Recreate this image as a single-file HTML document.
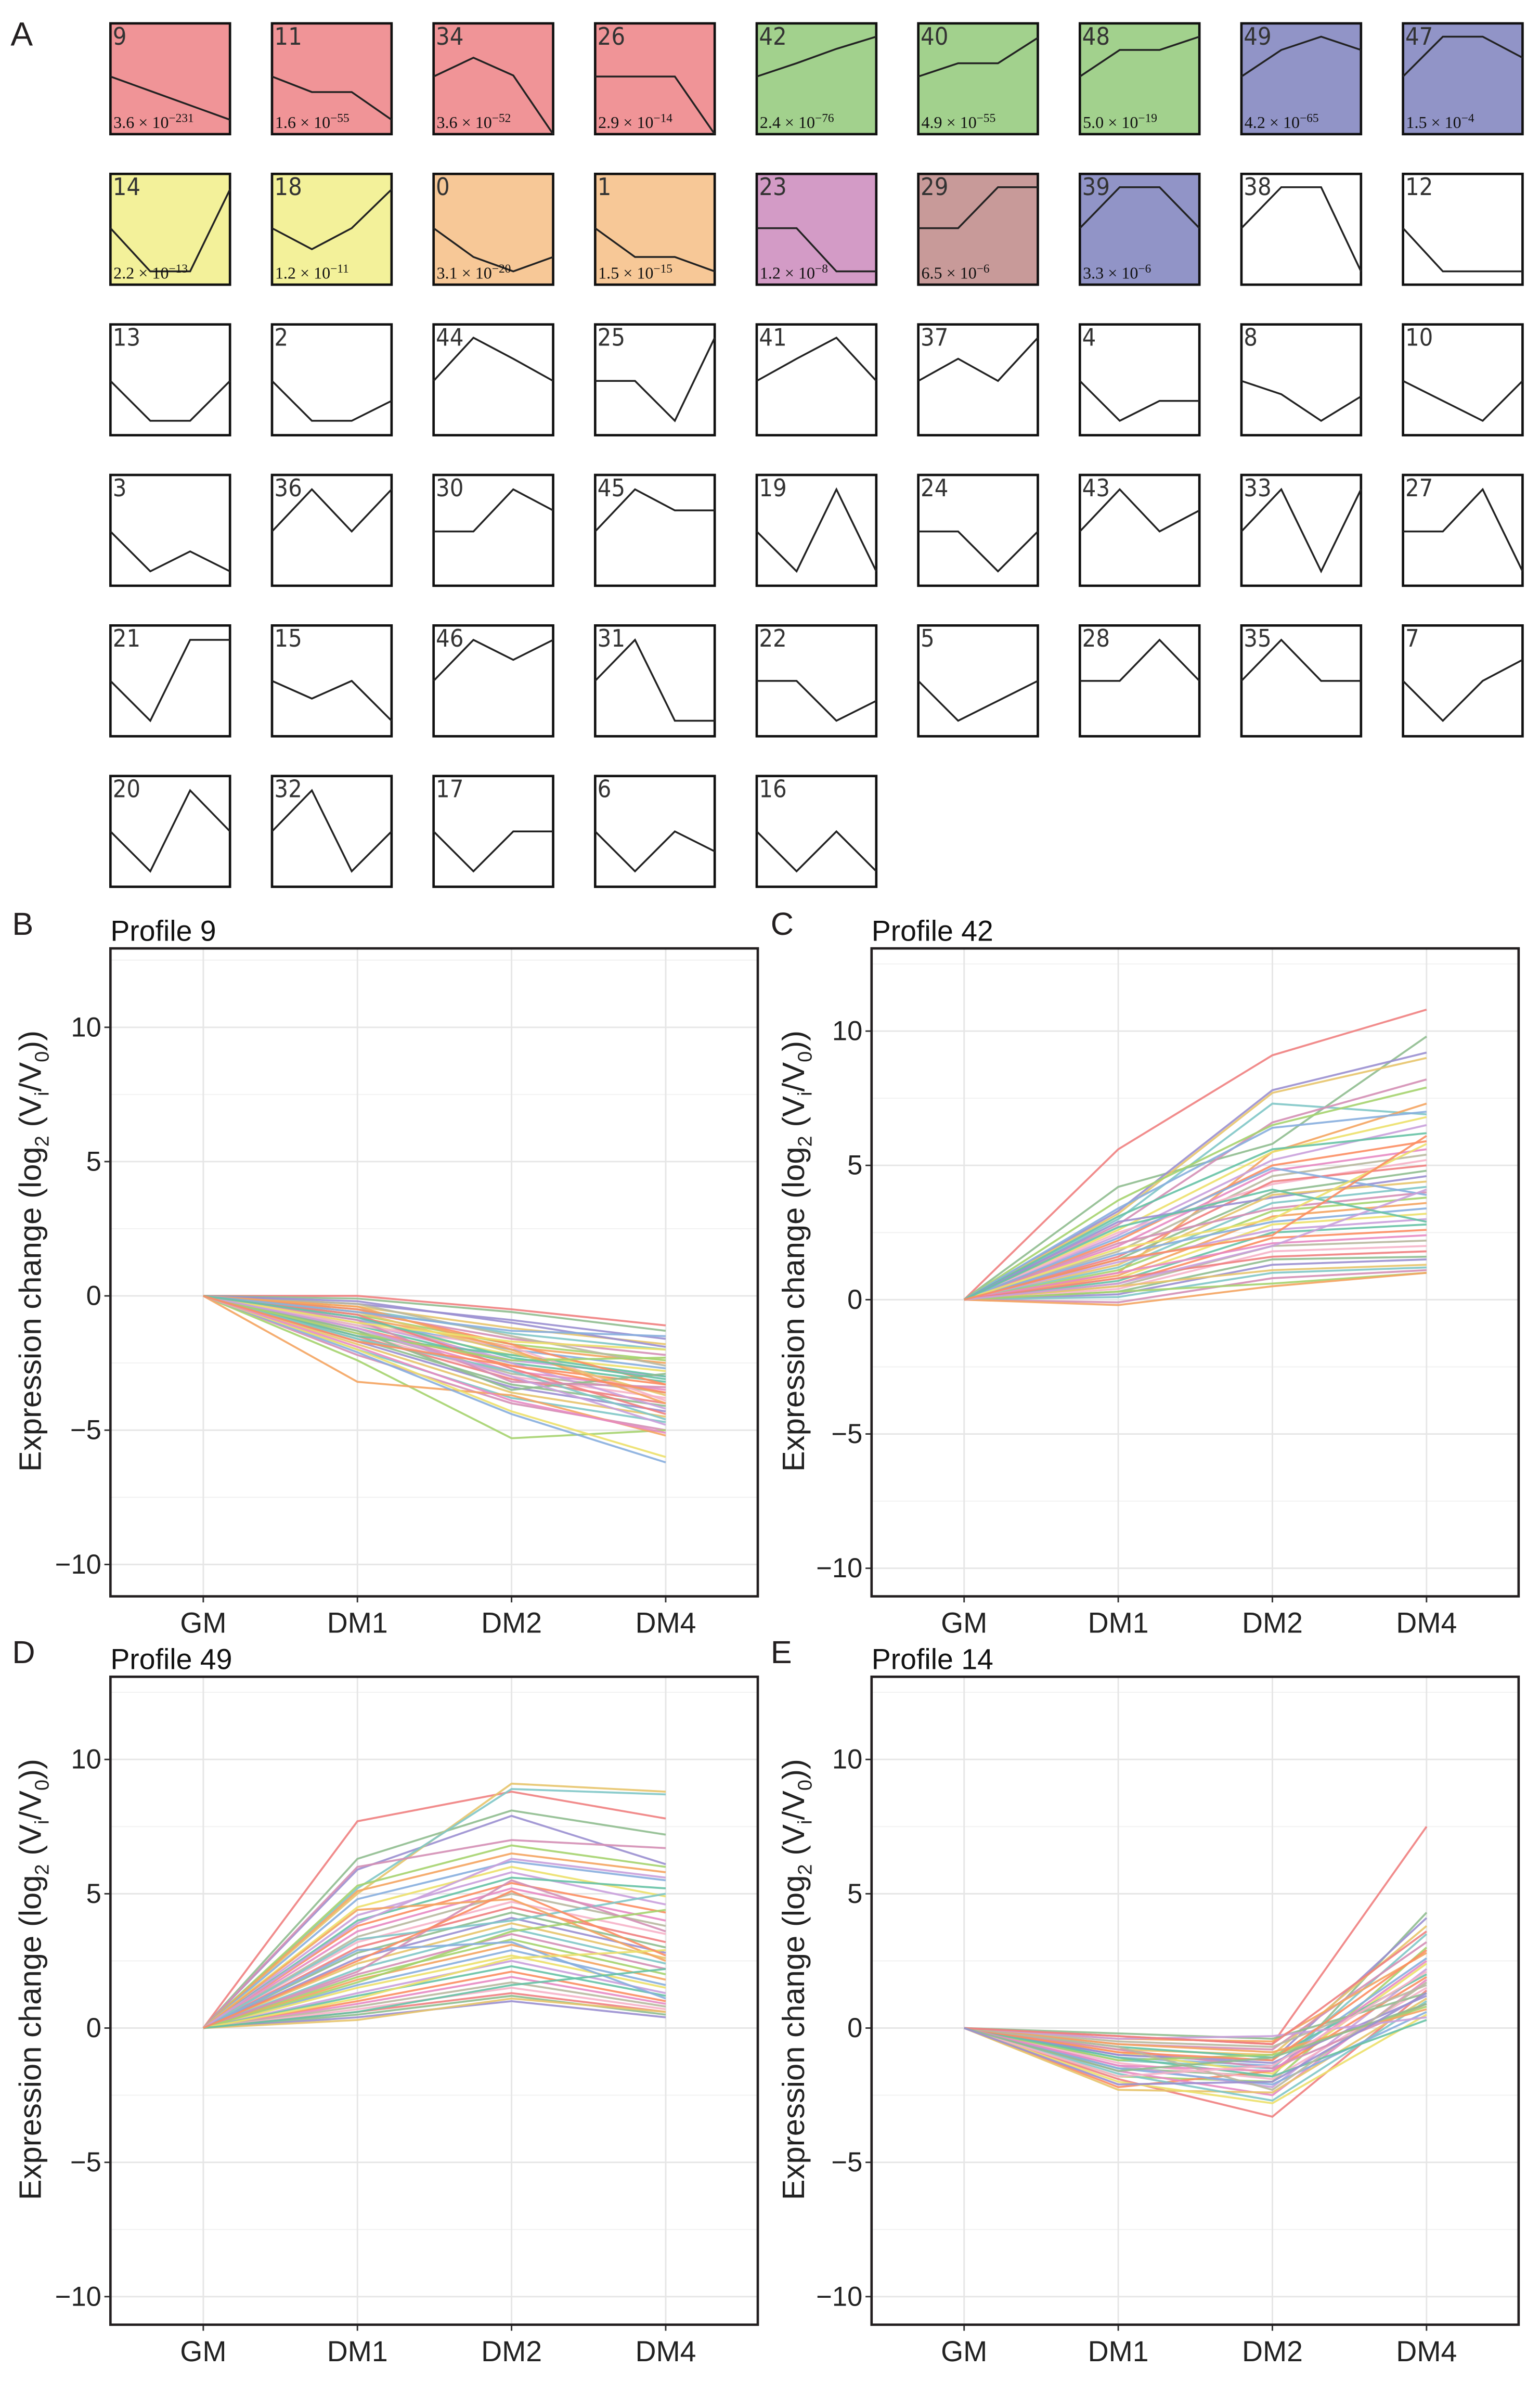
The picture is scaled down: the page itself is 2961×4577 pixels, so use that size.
<!DOCTYPE html>
<html><head><meta charset="utf-8"><title>STEM profiles</title>
<style>
html,body{margin:0;padding:0;background:#fff;}
svg{display:block;}
text{font-family:"Liberation Sans","DejaVu Sans",sans-serif;}
text.pnum{font-family:"DejaVu Sans Condensed","DejaVu Sans",sans-serif;}
text.pval{font-family:"Liberation Serif","DejaVu Serif",serif;}
</style></head>
<body>
<svg id="fig" xmlns="http://www.w3.org/2000/svg" width="2961" height="4577" viewBox="0 0 1015.1 1569.1" preserveAspectRatio="none">
<rect x="0" y="0" width="1015.1" height="1569.1" fill="#fff"/>
<text x="7" y="30" font-size="22" fill="#231f20">A</text>
<g id="grid"></g>
<g id="charts"></g>
</svg>
<script>
// ---------- Panel A data ----------
const profileIds = [9,11,34,26,42,40,48,49,47, 14,18,0,1,23,29,39,38,12, 13,2,44,25,41,37,4,8,10, 3,36,30,45,19,24,43,33,27, 21,15,46,31,22,5,28,35,7, 20,32,17,6,16];
const profileShapes = [
 [.48,.61,.74,.87],[.48,.62,.62,.87],[.48,.31,.47,1.0],[.48,.48,.48,1.0],[.48,.36,.23,.12],[.48,.36,.36,.13],[.48,.24,.24,.12],[.48,.24,.12,.24],[.48,.12,.12,.31],
 [.49,.88,.88,.14],[.49,.68,.49,.14],[.49,.75,.88,.75],[.49,.75,.75,.88],[.49,.49,.88,.88],[.49,.49,.12,.12],[.49,.12,.12,.49],[.49,.12,.12,.88],[.49,.88,.88,.88],
 [.51,.87,.87,.51],[.51,.87,.87,.69],[.51,.12,.31,.51],[.51,.51,.87,.12],[.51,.31,.12,.51],[.51,.31,.51,.12],[.51,.87,.69,.69],[.51,.63,.87,.65],[.51,.69,.87,.51],
 [.51,.87,.69,.87],[.51,.13,.51,.13],[.51,.51,.13,.32],[.51,.13,.32,.32],[.51,.87,.13,.87],[.51,.51,.87,.51],[.51,.13,.51,.32],[.51,.13,.87,.13],[.51,.51,.13,.87],
 [.50,.86,.13,.13],[.50,.66,.50,.86],[.50,.13,.31,.13],[.50,.13,.86,.86],[.50,.50,.86,.68],[.50,.86,.68,.50],[.50,.50,.13,.50],[.50,.13,.50,.50],[.50,.86,.50,.31],
 [.50,.86,.13,.50],[.50,.13,.86,.50],[.50,.86,.50,.50],[.50,.86,.50,.68],[.50,.86,.50,.86]];
const profileColors = ["#f09497","#f09497","#f09497","#f09497","#a2d18d","#a2d18d","#a2d18d","#9194c7","#9194c7",
 "#f3f19a","#f3f19a","#f7c897","#f7c897","#d39bc6","#c89a99","#9194c7"];
const pMant = ["3.6","1.6","3.6","2.9","2.4","4.9","5.0","4.2","1.5","2.2","1.2","3.1","1.5","1.2","6.5","3.3"];
const pExp = ["−231","−55","−52","−14","−76","−55","−19","−65","−4","−13","−11","−20","−15","−8","−6","−6"];

const NS="http://www.w3.org/2000/svg";
function mk(tag,attrs,parent){const e=document.createElementNS(NS,tag);for(const k in attrs)e.setAttribute(k,attrs[k]);if(parent)parent.appendChild(e);return e;}

const grid=document.getElementById('grid');
const bx0=72.8, bw=78.8, bh=73, colStep=106.5, by0=15.4, rowStep=99.2;
profileIds.forEach((id,i)=>{
  const c=i%9, r=Math.floor(i/9);
  const x=bx0+c*colStep, y=by0+r*rowStep;
  const g=mk('g',{},grid);
  
  
  const fill=i<profileColors.length?profileColors[i]:'#ffffff';
  mk('rect',{x:x,y:y,width:bw,height:bh,fill:fill,stroke:'#111','stroke-width':1.6},g);
  const sh=profileShapes[i];
  const pts=sh.map((v,k)=>(x+k*bw/3).toFixed(2)+','+(y+v*bh).toFixed(2)).join(' ');
  const pl=mk('polyline',{points:pts,fill:'none',stroke:'#222','stroke-width':1.2},g);
  
  
  const t=mk('text',{x:x+1.5,y:y+14,'font-size':16,fill:'#333','class':'pnum'},g);
  t.textContent=String(id);
  
  
  if(i<pMant.length){
    const p=mk('text',{x:x+2,y:y+bh-4,'font-size':11,fill:'#111','class':'pval'},g);
    
    
    p.textContent=pMant[i]+' × 10';
    const s=mk('tspan',{dy:-4,'font-size':8},p);s.textContent=pExp[i];
  }
});

// ---------- Line chart data (values at DM1, DM2, DM4; GM = 0) ----------
const categories=["GM","DM1","DM2","DM4"];
const yTicks=[-10,-5,0,5,10];
const yTickLabels=["−10","−5","0","5","10"];
const palette=["#f08080","#8fbc8f","#9a8fd0","#e7c46b","#7fc6c6","#d48fb5","#a5d36e","#f4a460","#87aede","#ece06a","#c9a0dc","#66c2a5","#fc8d62","#e78ac3","#b8b8a0","#f6b3c8"];
const seriesB=[[0,-0.5,-1.1],[-0.1,-0.6,-1.3],[-0.3,-0.9,-1.6],[-0.4,-1.2,-1.8],[-0.5,-1.4,-2.0],[-0.6,-1.6,-2.2],[-0.7,-1.8,-2.4],[-0.8,-1.9,-2.5],[-0.9,-2.0,-2.7],[-1.0,-2.2,-2.8],[-1.0,-2.4,-3.0],[-1.1,-2.5,-3.2],[-1.2,-2.6,-3.3],[-1.2,-2.8,-3.5],[-1.3,-2.9,-3.6],[-1.4,-3.0,-3.8],[-1.5,-3.1,-4.0],[-1.6,-3.3,-4.1],[-1.7,-3.4,-4.3],[-1.8,-3.6,-4.5],[-2.0,-3.8,-4.7],[-2.2,-4.0,-5.0],[-2.4,-5.3,-5.0],[-3.2,-3.7,-5.2],[-2.1,-4.4,-6.2],[-2.0,-4.3,-6.0],[-0.8,-2.5,-4.2],[-1.5,-2.2,-3.0],[-0.5,-1.8,-3.3],[-1.9,-3.9,-5.1],[-0.3,-1.5,-2.6],[-1.1,-1.9,-3.9],[-0.7,-2.7,-4.4],[-1.3,-3.5,-2.9],[-0.2,-1.0,-1.9],[-0.6,-2.1,-3.7],[-1.6,-2.8,-4.6],[-0.9,-3.2,-3.4],[-1.4,-2.4,-2.3],[-0.4,-2.0,-4.0],[-0.6,-1.3,-1.5],[-1.0,-1.7,-2.0],[-1.2,-3.0,-4.8],[-0.8,-2.3,-3.1],[-1.7,-2.6,-3.6]];
const seriesC=[[5.6,9.1,10.8],[4.2,5.8,9.8],[3.3,7.8,9.2],[3.2,7.7,9.0],[3.0,7.3,6.9],[2.8,6.6,8.2],[3.7,6.5,7.9],[1.0,5.5,7.3],[3.4,6.4,7.0],[2.6,5.5,6.8],[2.4,5.2,6.5],[3.1,5.6,6.2],[2.2,5.0,5.9],[2.0,4.8,5.6],[1.8,4.6,5.4],[2.5,4.3,5.2],[1.6,4.4,5.0],[1.5,4.0,4.8],[2.9,3.8,4.6],[1.3,3.9,4.4],[1.2,3.6,4.2],[2.1,3.4,4.0],[1.1,3.3,3.8],[0.9,3.1,3.6],[1.7,2.9,3.4],[0.8,2.8,3.2],[1.4,2.6,3.0],[0.7,2.5,2.8],[0.6,2.3,2.6],[1.0,2.1,2.4],[0.5,2.0,2.2],[0.4,1.8,2.0],[0.8,1.6,1.8],[0.3,1.5,1.6],[0.2,1.3,1.5],[0.5,1.1,1.3],[0.1,1.0,1.2],[-0.1,0.8,1.1],[0.3,0.6,1.0],[-0.2,0.5,1.0],[2.3,4.9,3.9],[1.9,3.0,5.8],[0.6,2.0,4.1],[2.7,4.1,2.9],[1.5,2.4,6.1]];
const seriesD=[[7.7,8.8,7.8],[6.3,8.1,7.2],[5.9,7.9,6.1],[5.0,9.1,8.8],[5.2,8.9,8.7],[6.0,7.0,6.7],[5.3,6.8,6.0],[5.1,6.5,5.8],[4.8,6.2,5.5],[4.5,6.0,4.9],[4.2,5.8,4.6],[4.0,5.6,5.2],[3.8,5.4,4.3],[3.6,5.2,4.0],[3.4,5.0,3.8],[3.2,4.7,3.5],[3.0,4.5,3.2],[2.8,4.3,3.0],[2.6,4.1,2.8],[2.4,3.9,2.6],[2.2,3.7,2.4],[2.0,3.5,2.2],[1.9,3.3,2.0],[1.8,3.1,1.8],[1.6,2.9,1.6],[1.5,2.7,1.5],[1.3,2.5,1.3],[1.2,2.3,1.2],[1.0,2.1,1.0],[0.9,1.9,0.9],[0.8,1.7,0.8],[0.7,1.5,0.7],[0.6,1.3,0.6],[0.5,1.2,0.5],[0.4,1.0,0.4],[0.3,1.1,0.6],[3.3,4.0,5.0],[2.1,5.5,3.6],[1.7,3.6,4.4],[4.4,4.8,2.5],[2.9,3.2,1.1],[1.1,2.6,2.9],[3.9,6.3,5.6],[0.6,1.6,2.2],[2.5,5.1,2.7]];
const seriesE=[[-0.3,-0.6,7.5],[-1.5,-1.8,4.3],[-1.0,-1.2,4.1],[-0.8,-1.0,3.8],[-1.2,-1.5,3.5],[-0.6,-0.8,3.2],[-1.8,-2.0,3.0],[-0.4,-0.5,2.8],[-1.1,-1.4,2.6],[-0.9,-1.7,2.4],[-1.4,-2.2,2.2],[-0.7,-1.1,2.0],[-2.2,-1.6,1.9],[-1.6,-2.5,1.8],[-0.5,-0.7,1.6],[-1.3,-1.9,1.5],[-1.9,-3.3,1.4],[-0.2,-0.4,1.3],[-1.0,-1.3,1.2],[-2.3,-2.4,1.1],[-1.7,-2.7,1.0],[-0.8,-1.5,0.9],[-1.2,-1.0,0.8],[-0.6,-0.9,0.7],[-1.5,-2.1,0.6],[-2.0,-2.8,0.5],[-0.4,-0.3,0.4],[-1.1,-1.8,0.3],[-0.9,-1.2,2.9],[-1.4,-1.6,2.5],[-0.7,-2.3,1.7],[-1.8,-1.4,2.1],[-0.3,-0.6,3.6],[-1.6,-1.1,0.9],[-2.1,-2.0,1.3]];

const chartDefs=[
 {name:'b',letter:'B',title:'Profile 9',left:72.8,top:625,right:499.5,bottom:1052,y0:854,ux:17.7,cx0:134,lx:8,tx:27,data:seriesB},
 {name:'c',letter:'C',title:'Profile 42',left:574.5,top:625,right:1001,bottom:1052,y0:856.5,ux:17.7,cx0:635.5,lx:508,tx:530,data:seriesC},
 {name:'d',letter:'D',title:'Profile 49',left:72.8,top:1105,right:499.5,bottom:1532,y0:1336.5,ux:17.7,cx0:134,lx:8,tx:27,data:seriesD},
 {name:'e',letter:'E',title:'Profile 14',left:574.5,top:1105,right:1001,bottom:1532,y0:1336.5,ux:17.7,cx0:635.5,lx:508,tx:530,data:seriesE}
];
const charts=document.getElementById('charts');
chartDefs.forEach(cd=>{
  const g=mk('g',{},charts);
  
  
  const xS=i=>cd.cx0+i*101.6;
  const yS=v=>cd.y0-v*cd.ux;
  const L=mk('text',{x:cd.lx,y:cd.top-9,'font-size':21,fill:'#231f20'},g);
  L.textContent=cd.letter;
  
  
  const T=mk('text',{x:cd.left,y:cd.top-5,'font-size':19,fill:'#111'},g);
  T.textContent=cd.title;
  
  
  for(let v=-12.5;v<=12.5;v+=5){const yy=yS(v);if(yy>cd.top&&yy<cd.bottom)mk('line',{x1:cd.left,x2:cd.right,y1:yy,y2:yy,stroke:'#f2f2f2','stroke-width':0.7},g);}
  yTicks.forEach((v,k)=>{
    const yy=yS(v);
    const gl=mk('line',{x1:cd.left,x2:cd.right,y1:yy,y2:yy,stroke:'#e6e6e6','stroke-width':1},g);
    
    
    mk('line',{x1:cd.left-4,x2:cd.left,y1:yy,y2:yy,stroke:'#333','stroke-width':1},g);
    const tl=mk('text',{x:cd.left-6,y:yy+6,'font-size':18,'text-anchor':'end',fill:'#222'},g);
    tl.textContent=yTickLabels[k];
    
    
  });
  categories.forEach((c,i)=>{
    const xx=xS(i);
    mk('line',{x1:xx,x2:xx,y1:cd.top,y2:cd.bottom,stroke:'#e6e6e6','stroke-width':1},g);
    mk('line',{x1:xx,x2:xx,y1:cd.bottom,y2:cd.bottom+4,stroke:'#333','stroke-width':1},g);
    const xl=mk('text',{x:xx,y:cd.bottom+24,'font-size':19,'text-anchor':'middle',fill:'#222'},g);
    xl.textContent=c;
    
    
  });
  cd.data.forEach((s,j)=>{
    const vals=[0].concat(s);
    const pts=vals.map((v,i)=>xS(i).toFixed(2)+','+yS(v).toFixed(2)).join(' ');
    const pl=mk('polyline',{points:pts,fill:'none',stroke:palette[j%palette.length],'stroke-width':1.3,'stroke-opacity':0.9},g);
    
    
  });
  mk('rect',{x:cd.left,y:cd.top,width:cd.right-cd.left,height:cd.bottom-cd.top,fill:'none',stroke:'#231f20','stroke-width':1.6},g);
  const cy=(cd.top+cd.bottom)/2-14;
  const yt=mk('text',{x:cd.tx,y:cy,'font-size':20.5,'text-anchor':'middle',fill:'#222',transform:'rotate(-90 '+cd.tx+' '+cy+')'},g);
  
  
  yt.appendChild(document.createTextNode('Expression change (log'));
  const s1=mk('tspan',{dy:5,'font-size':13},yt);s1.textContent='2';
  const s2=mk('tspan',{dy:-5},yt);s2.textContent=' (V';
  const s3=mk('tspan',{dy:5,'font-size':13},yt);s3.textContent='i';
  const s4=mk('tspan',{dy:-5},yt);s4.textContent='/V';
  const s5=mk('tspan',{dy:5,'font-size':13},yt);s5.textContent='0';
  const s6=mk('tspan',{dy:-5},yt);s6.textContent='))';
});
</script>
</body></html>
